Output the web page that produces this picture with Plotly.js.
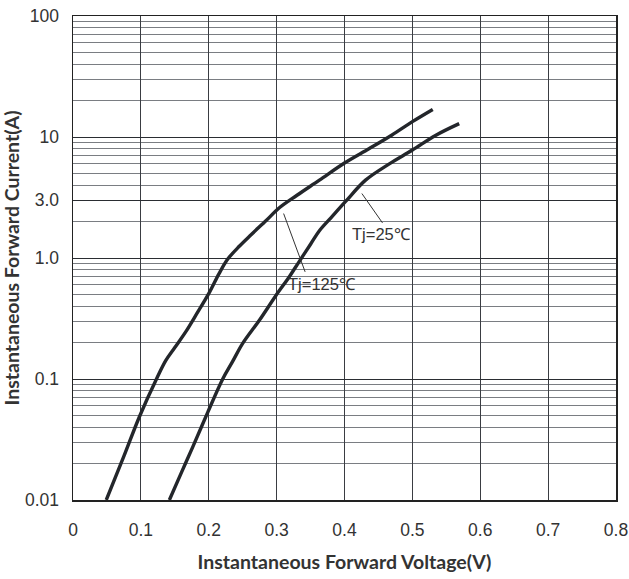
<!DOCTYPE html>
<html>
<head>
<meta charset="utf-8">
<script src="https://cdn.plot.ly/plotly-3.0.1.min.js"></script>
<style>
  html, body { margin: 0; padding: 0; background: #ffffff; }
  #chart { width: 629px; height: 579px; }
</style>
</head>
<body>
<div id="chart"></div>
<script>
// Tj = 125 °C curve (left)
const voltage125 = [0.049, 0.075, 0.098, 0.123, 0.137, 0.150, 0.167, 0.180, 0.201, 0.215, 0.228, 0.245, 0.262, 0.285, 0.304, 0.330, 0.363, 0.400, 0.436, 0.470, 0.500, 0.530];
const current125 = [0.01, 0.023, 0.049, 0.10, 0.143, 0.182, 0.25, 0.33, 0.52, 0.74, 0.98, 1.25, 1.55, 2.05, 2.6, 3.3, 4.4, 6.1, 8.0, 10.4, 13.4, 16.9];

// Tj = 25 °C curve (right)
const voltage25 = [0.142, 0.160, 0.1765, 0.1985, 0.2206, 0.235, 0.250, 0.2746, 0.299, 0.3187, 0.333, 0.350, 0.363, 0.380, 0.402, 0.431, 0.466, 0.500, 0.534, 0.569];
const current25 = [0.01, 0.017, 0.0275, 0.053, 0.10, 0.139, 0.197, 0.306, 0.49, 0.70, 0.93, 1.3, 1.68, 2.15, 2.95, 4.4, 6.0, 7.8, 10.3, 12.9];

// Axis ticks
const xTickVals = [0, 0.1, 0.2, 0.3, 0.4, 0.5, 0.6, 0.7, 0.8];
const xTickText = ['0', '0.1', '0.2', '0.3', '0.4', '0.5', '0.6', '0.7', '0.8'];
const yTickVals = [0.01, 0.1, 1, 3, 10, 100];
const yTickText = ['0.01', '0.1', '1.0', '3.0', '10', '100'];
const yMinorVals = [0.02, 0.03, 0.04, 0.05, 0.06, 0.07, 0.08, 0.09,
                    0.2, 0.3, 0.4, 0.5, 0.6, 0.7, 0.8, 0.9,
                    2, 4, 5, 6, 7, 8, 9,
                    20, 30, 40, 50, 60, 70, 80, 90];

// Curve labels (voltage, current)
const labelText = ['Tj=25℃', 'Tj=125℃'];
const labelX = [0.455, 0.367];
const labelY = [1.57, 0.61];
const leaderX0 = [0.4256, 0.3103];
const leaderY0 = [3.41, 2.33];
const leaderX1 = [0.456, 0.342];
const leaderY1 = [1.95, 0.768];

const curveStyle = { color: '#23262b', width: 3.4, shape: 'spline', smoothing: 1.0 };

const traces = [
  { x: voltage125, y: current125, type: 'scatter', mode: 'lines', line: curveStyle, name: 'Tj=125℃', hoverinfo: 'skip' },
  { x: voltage25, y: current25, type: 'scatter', mode: 'lines', line: curveStyle, name: 'Tj=25℃', hoverinfo: 'skip' }
];

const annotations = labelText.map((t, i) => ({
  x: labelX[i], y: Math.log10(labelY[i]), xref: 'x', yref: 'y',
  text: t, showarrow: false,
  font: { family: 'Liberation Sans, Arial, sans-serif', size: 16.5, color: '#333333' },
  xanchor: 'center', yanchor: 'middle'
}));

const shapes = labelText.map((t, i) => ({
  type: 'line', xref: 'x', yref: 'y',
  x0: leaderX0[i], y0: leaderY0[i],
  x1: leaderX1[i], y1: leaderY1[i],
  line: { color: '#333333', width: 1 }
}));

const layout = {
  width: 629, height: 579,
  margin: { l: 73, r: 13, t: 16, b: 79 },
  paper_bgcolor: '#ffffff', plot_bgcolor: '#ffffff',
  showlegend: false,
  font: { family: 'Liberation Sans, Arial, sans-serif', color: '#333333' },
  xaxis: {
    range: [0, 0.8],
    tickmode: 'array', tickvals: xTickVals, ticktext: xTickText,
    ticks: '', ticklabelstandoff: 13,
    tickfont: { size: 17.5, color: '#333333' },
    showgrid: true, gridcolor: '#3a3d42', gridwidth: 1,
    zeroline: false,
    showline: true, linecolor: '#222222', linewidth: 1.5, mirror: true,
    title: { text: 'Instantaneous Forward Voltage(V)', standoff: 17,
             font: { family: 'Lato, sans-serif', size: 19.5, color: '#333333', weight: 'bold' } }
  },
  yaxis: {
    type: 'log', range: [-2, 2],
    tickmode: 'array', tickvals: yTickVals, ticktext: yTickText,
    ticks: '', ticklabelstandoff: 9,
    tickfont: { size: 17.5, color: '#333333' },
    showgrid: true, gridcolor: '#2a2d32', gridwidth: 1,
    minor: { tickmode: 'array', tickvals: yMinorVals, showgrid: true, gridcolor: '#7a7d82', gridwidth: 1.2, ticks: '' },
    zeroline: false,
    showline: true, linecolor: '#222222', linewidth: 1.5, mirror: true,
    title: { text: 'Instantaneous Forward Current(A)', standoff: 6,
             font: { family: 'Lato, sans-serif', size: 19.5, color: '#333333', weight: 'bold' } }
  },
  annotations: annotations,
  shapes: shapes
};

Plotly.newPlot('chart', traces, layout, { staticPlot: true, displayModeBar: false });
</script>
</body>
</html>
